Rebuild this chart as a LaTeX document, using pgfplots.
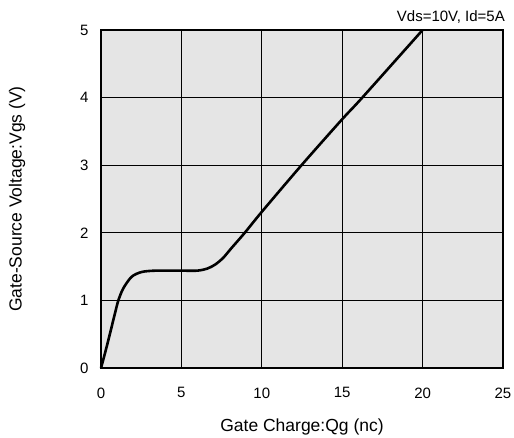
\documentclass[border=0pt]{standalone}
\usepackage{pgfplots}
\pgfplotsset{compat=1.18}
\usepackage{fontspec}
\setmainfont{Liberation Sans}
\definecolor{bgc}{HTML}{E5E5E5}
\begin{document}
\begin{tikzpicture}[x=1pt,y=1pt]
\useasboundingbox (-101,-70) rectangle (413,368);
\begin{axis}[
  at={(0,0)}, anchor=south west,
  scale only axis, width=402pt, height=338pt,
  xmin=0, xmax=25, ymin=0, ymax=5,
  xtick={0,5,10,15,20,25}, ytick={0,1,2,3,4,5},
  grid=major, major grid style={black, line width=0.8pt},
  axis line style={black, line width=1.6pt},
  axis background/.style={fill=bgc},
  tick style={draw=none},
  /pgf/number format/assume math mode=true,
  ticklabel style={font=\fontsize{15}{17}\selectfont},
  xticklabel style={yshift=-16pt},
  yticklabel style={xshift=-9pt},
  xlabel={Gate Charge:Qg (nc)},
  ylabel={Gate-Source Voltage:Vgs (V)},
  label style={font=\fontsize{17.5}{20}\selectfont},
  xlabel style={at={(axis description cs:0.5,0)}, anchor=center, yshift=-59pt},
  ylabel style={at={(axis description cs:0,0.5)}, anchor=center, rotate=0, yshift=84pt},
  clip=false,
]
\addplot[black, line width=2.6pt, smooth, tension=0.5] coordinates {
(0,0) (0.25,0.22) (0.56,0.51) (0.87,0.81) (1.08,1.0) (1.39,1.18) (1.91,1.35) (2.53,1.42) (3.4,1.44) (5,1.44) (6,1.44) (6.6,1.47) (7.1,1.53) (7.6,1.63) (8.1,1.77) (8.94,2.0) (10,2.31) (12.47,3) (15,3.68) (16.25,4) (20,5)
};
\node[anchor=south east, font=\fontsize{15}{17}\selectfont, inner sep=0pt] at (axis description cs:1.005,1.02) {Vds=10V, Id=5A};
\end{axis}
\end{tikzpicture}
\end{document}
